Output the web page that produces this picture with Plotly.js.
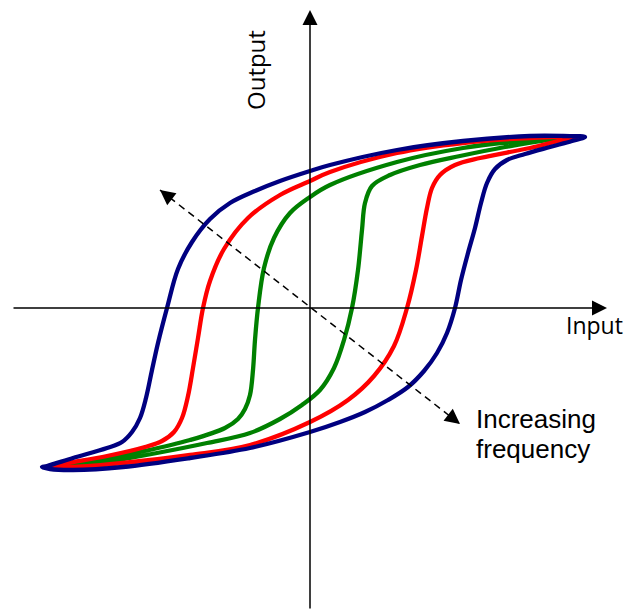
<!DOCTYPE html>
<html>
<head>
<meta charset="utf-8">
<script src="https://cdn.plot.ly/plotly-3.0.1.min.js"></script>
<style>html,body{margin:0;padding:0;background:#fff;}#chart{width:626px;height:610px;}</style>
</head>
<body>
<div id="chart"></div>
<script>
// Hysteresis loops: Input (x) vs Output (y), origin at the axes crossing
const blueUpperX = [275,253,220,153,87,20,0,-30,-55,-80,-100,-118,-132,-143,-152,-158,-164,-170,-178,-188,-203,-237,-263,-268];
const blueUpperY = [171,172,172,167,158,143,137,127,117,105,89,66,39,0,-35,-62,-90,-110,-124,-134,-140,-150,-158,-159];
const blueLowerX = [-260,-237,-187,-120,-60,0,30,55,78,98,114,127,137,145,151,158,165,171,177,185,197,215,240,262,275];
const blueLowerY = [-161,-162,-159,-150,-140,-124,-114,-104,-92,-79,-63,-45,-25,0,28,55,80,105,125,139,148,154,161,167,171];

const redUpperX = [267,220,153,87,20,0,-30,-62,-86,-100,-107,-112,-117,-122,-128,-136,-148,-165,-203,-243,-264];
const redUpperY = [171,170,165,155,136,127,113,90,59,27,0,-30,-60,-88,-110,-124,-133,-139,-148,-155,-159];
const redLowerX = [-237,-187,-120,-60,0,38,64,84,97,106,112,117,122,130,145,170,220,253,267];
const redLowerY = [-159,-155,-147,-137,-114,-92,-68,-38,0,38,72,100,120,133,143,150,160,168,171];

const greenUpperX = [262,220,153,87,20,0,-20,-36,-46,-52,-55,-57,-60,-65,-72,-85,-120,-170,-220,-258];
const greenUpperY = [171,168,160,146,123,111,95,70,40,0,-32,-62,-87,-101,-111,-120,-132,-144,-154,-159];
const greenLowerX = [-230,-203,-153,-103,-60,-30,-8,10,24,34,42,48,52,55,62,80,110,150,195,237,262];
const greenLowerY = [-158,-154,-145,-135,-125,-111,-97,-82,-60,-32,0,38,78,105,122,133,143,152,161,168,171];

// Axes (tail -> tip) and the "increasing frequency" double arrow
const xAxisX = [-298, 297];
const yAxisY = [-302, 298];
const freqArrowX = [-150, 150];
const freqArrowY = [118, -116];

const labels = {input: 'Input', output: 'Output', inc1: 'Increasing', inc2: 'frequency'};

function loop(ux, uy, lx, ly, color) {
  return {
    x: ux.concat(lx), y: uy.concat(ly),
    type: 'scatter', mode: 'lines',
    line: {color: color, width: 4.3, shape: 'spline', smoothing: 1},
    hoverinfo: 'skip'
  };
}

const traces = [
  loop(greenUpperX, greenUpperY, greenLowerX, greenLowerY, '#008000'),
  loop(redUpperX, redUpperY, redLowerX, redLowerY, '#FF0000'),
  loop(blueUpperX, blueUpperY, blueLowerX, blueLowerY, '#000080'),
  {
    x: freqArrowX, y: freqArrowY, type: 'scatter', mode: 'lines',
    line: {color: '#000', width: 1.5, dash: '7px,5px'}, hoverinfo: 'skip'
  }
];

// arrowhead helpers for the dashed arrow
const dx = freqArrowX[1] - freqArrowX[0], dy = freqArrowY[1] - freqArrowY[0];
const len = Math.sqrt(dx*dx + dy*dy);
const ux = dx/len, uy = dy/len;
const back = 8;

const arrowCommon = {xref:'x', yref:'y', axref:'x', ayref:'y', text:'', showarrow:true,
  arrowhead:2, arrowsize:2, arrowwidth:1.5, arrowcolor:'#000', standoff:0, startstandoff:0};

const annotations = [
  Object.assign({}, arrowCommon, {x: xAxisX[1], y: 0, ax: xAxisX[0], ay: 0}),
  Object.assign({}, arrowCommon, {x: 0, y: yAxisY[1], ax: 0, ay: yAxisY[0]}),
  Object.assign({}, arrowCommon, {x: freqArrowX[0], y: freqArrowY[0], ax: freqArrowX[0] + ux*back, ay: freqArrowY[0] + uy*back}),
  Object.assign({}, arrowCommon, {x: freqArrowX[1], y: freqArrowY[1], ax: freqArrowX[1] - ux*back, ay: freqArrowY[1] - uy*back}),
  {xref:'x', yref:'y', x: 284.5, y: -17, text: labels.input, showarrow:false,
   xanchor:'center', yanchor:'middle', font:{family:'Open Sans, sans-serif', size:23, color:'#000'}},
  {xref:'x', yref:'y', x: -55, y: 238, text: labels.output, showarrow:false, textangle:-90,
   xanchor:'center', yanchor:'middle', font:{family:'Open Sans, sans-serif', size:24, color:'#000'}},
  {xref:'x', yref:'y', x: 164, y: -111, text: labels.inc1, showarrow:false,
   xanchor:'left', yanchor:'middle', font:{family:'Liberation Sans, Arial, sans-serif', size:26, color:'#000'}},
  {xref:'x', yref:'y', x: 164, y: -141, text: labels.inc2, showarrow:false,
   xanchor:'left', yanchor:'middle', font:{family:'Liberation Sans, Arial, sans-serif', size:26, color:'#000'}}
];

const layout = {
  width: 626, height: 610,
  margin: {l:0, r:0, t:0, b:0, pad:0},
  paper_bgcolor: '#fff', plot_bgcolor: '#fff',
  showlegend: false,
  xaxis: {range: [-310, 316], visible: false, showgrid: false, zeroline: false, fixedrange: true},
  yaxis: {range: [-302, 308], visible: false, showgrid: false, zeroline: false, fixedrange: true},
  annotations: annotations
};

Plotly.newPlot('chart', traces, layout, {displayModeBar: false, staticPlot: true});
</script>
</body>
</html>
